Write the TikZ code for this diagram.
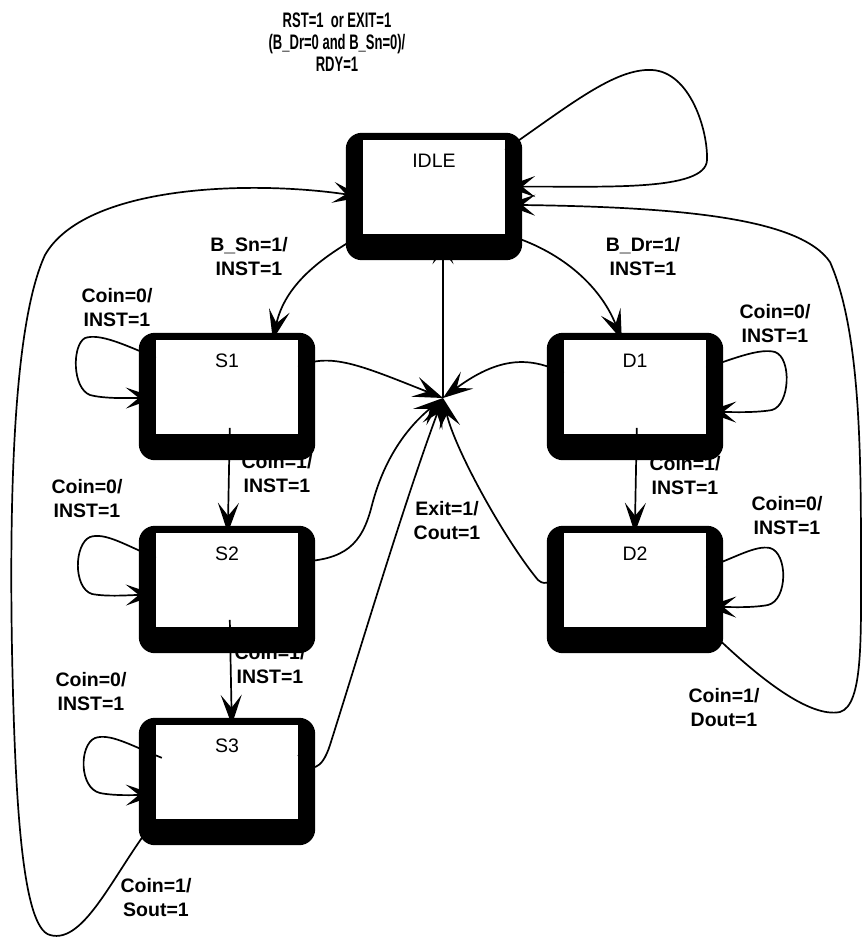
\documentclass[tikz,border=0pt]{standalone}
\usepackage{fontspec}
\usepackage{graphicx}
\setmainfont{Liberation Sans}
\usetikzlibrary{arrows.meta}
\pgfdeclarelayer{lbl}
\pgfdeclarelayer{shade}
\pgfsetlayers{lbl,shade,main}
\newcommand\stateshade[1]{\fill[rounded corners=16pt] ([shift={(-17,-7)}]#1.north west) rectangle ([shift={(17,26)}]#1.south east);}
\begin{document}
\begin{tikzpicture}[x=1pt,y=-1pt,
  state/.style={rectangle, fill=white, inner sep=0pt, minimum width=142pt, minimum height=94pt,
    text height=14pt, text depth=54pt, font=\fontsize{19.5}{23}\selectfont},
  cond/.style={align=center, inner sep=0pt, font=\fontsize{19.5}{24}\selectfont\bfseries},
  tr/.style={line width=1.7pt, -{Stealth[length=30pt,width=21pt,inset=13pt]}},
]
\useasboundingbox (0,0) rectangle (864,938);

% states
\node[state] (idle) at (434,187) {IDLE};
\node[state] (s1) at (227,387) {S1};
\node[state] (d1) at (635,387) {D1};
\node[state] (s2) at (227,580) {S2};
\node[state] (d2) at (635,580) {D2};
\node[state] (s3) at (227,772) {S3};
\coordinate (hub) at (443,398);

% heavy black frames behind the states
\begin{pgfonlayer}{shade}
  \stateshade{idle}\stateshade{s1}\stateshade{d1}
  \stateshade{s2}\stateshade{d2}\stateshade{s3}
\end{pgfonlayer}

% transition conditions
\begin{pgfonlayer}{lbl}
  \fill[white] (0,0) rectangle (864,938);
  \node[cond, font=\fontsize{21}{22}\selectfont\bfseries] (lrst) at (337,42)
    {\scalebox{0.62}[1]{RST=1\ \ or EXIT=1}\\\scalebox{0.62}[1]{(B\_Dr=0 and B\_Sn=0)/}\\\scalebox{0.62}[1]{RDY=1}};
  \node[cond] (lsn) at (249,257) {B\_Sn=1/\\INST=1};
  \node[cond] (ldr) at (643,257) {B\_Dr=1/\\INST=1};
  \node[cond] (ls1) at (117,308) {Coin=0/\\INST=1};
  \node[cond] (ls2) at (87,499) {Coin=0/\\INST=1};
  \node[cond] (ls3) at (91,692) {Coin=0/\\INST=1};
  \node[cond] (ld1) at (775,324) {Coin=0/\\INST=1};
  \node[cond] (ld2) at (787,516) {Coin=0/\\INST=1};
  \node[cond] (ls12) at (277,474) {Coin=1/\\INST=1};
  \node[cond] (ls23) at (270,665) {Coin=1/\\INST=1};
  \node[cond] (ld12) at (685,476) {Coin=1/\\INST=1};
  \node[cond] (lex) at (447,521) {Exit=1/\\Cout=1};
  \node[cond] (ldo) at (724,708) {Coin=1/\\Dout=1};
  \node[cond] (lso) at (156,898) {Coin=1/\\Sout=1};
\end{pgfonlayer}

% IDLE self loop
\draw[tr] ([shift={(0,10)}]idle.north east) .. controls (570,105) and (615,68) .. (652,70)
  .. controls (690,72) and (708,130) .. (707,160)
  .. controls (706,192) and (600,186) .. ([shift={(0,47)}]idle.north east);
% D2 back to IDLE
\draw[tr] (d2.south east) .. controls (760,680) and (810,718) .. (840,712)
  .. controls (863,705) and (861,640) .. (861,560)
  .. controls (861,450) and (860,330) .. (830,262)
  .. controls (800,218) and (680,207) .. ([shift={(0,65)}]idle.north east);
% S3 back to IDLE
\draw[tr] (s3.south west) .. controls (115,870) and (85,945) .. (50,935)
  .. controls (22,928) and (15,800) .. (12,650)
  .. controls (9,480) and (15,320) .. (45,255)
  .. controls (85,185) and (250,180) .. ([shift={(0,57)}]idle.north west);

% IDLE to S1 and D1
\draw[tr] (idle.south west) .. controls (320,258) and (285,285) .. ([shift={(117,0)}]s1.north west);
\draw[tr] (idle.south east) .. controls (560,250) and (600,285) .. ([shift={(58,0)}]d1.north west);

% exit junction
\draw[tr] (hub) -- (hub |- idle.south);
\draw[tr] ([shift={(0,27)}]s1.north east) .. controls (330,352) and (360,365) .. (hub);
\draw[tr] ([shift={(0,33)}]d1.north west) .. controls (535,360) and (505,352) .. (hub);
\draw[tr] ([shift={(0,29)}]s2.north east) .. controls (345,560) and (362,545) .. (372,505)
  .. controls (385,455) and (410,425) .. (hub);
\draw[tr] ([shift={(0,30)}]s3.north east) .. controls (310,775) and (322,770) .. (330,745)
  .. controls (360,650) and (405,500) .. (hub);
\draw[tr] ([shift={(0,45)}]d2.north west) .. controls (552,577) and (547,588) .. (538,580)
  .. controls (505,540) and (455,450) .. (hub);

% coin chains
\draw[tr] ([shift={(74,88)}]s1.north west) -- ([shift={(72,0)}]s2.north west);
\draw[tr] ([shift={(74,87)}]s2.north west) -- ([shift={(76,0)}]s3.north west);
\draw[tr] ([shift={(73,88)}]d1.north west) -- ([shift={(71,0)}]d2.north west);

% waiting loops
\draw[tr] ([shift={(0,18)}]s1.north west) .. controls (125,345) and (100,333) .. (85,338)
  .. controls (72,345) and (72,388) .. (90,395)
  .. controls (105,399) and (130,398) .. ([shift={(0,58)}]s1.north west);
\draw[tr] ([shift={(0,25)}]s2.north west) .. controls (125,545) and (105,532) .. (90,537)
  .. controls (74,544) and (73,588) .. (92,594)
  .. controls (108,597) and (130,595) .. ([shift={(0,62)}]s2.north west);
\draw[tr] ([shift={(6,33)}]s3.north west) .. controls (130,745) and (110,733) .. (95,738)
  .. controls (79,745) and (79,788) .. (100,793)
  .. controls (115,796) and (135,795) .. ([shift={(0,70)}]s3.north west);
\draw[tr] ([shift={(0,28)}]d1.north east) .. controls (735,358) and (760,348) .. (775,352)
  .. controls (792,358) and (790,405) .. (772,410)
  .. controls (755,413) and (730,412) .. ([shift={(0,72)}]d1.north east);
\draw[tr] ([shift={(0,35)}]d2.north east) .. controls (735,558) and (755,545) .. (770,548)
  .. controls (788,553) and (788,600) .. (768,605)
  .. controls (752,608) and (730,607) .. ([shift={(0,74)}]d2.north east);
\end{tikzpicture}
\end{document}
